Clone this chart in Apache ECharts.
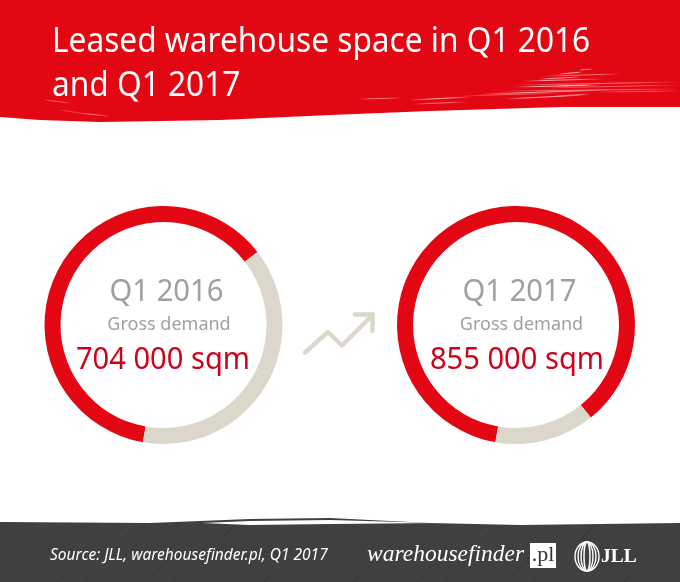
<!DOCTYPE html>
<html><head><meta charset="utf-8">
<style>html,body{margin:0;padding:0;background:#fff}#c{width:680px;height:582px}</style>
<script src="https://cdn.jsdelivr.net/npm/echarts@6/dist/echarts.min.js"></script></head>
<body><div id="c"></div>
<script>
const periods = ['Q1 2016','Q1 2017'];
const amounts = ['704 000 sqm','855 000 sqm'];
const subLabel = 'Gross demand';
const redShare = [61.7,86.4];
const restShare = [38.3,13.6];
const titleLines = ['Leased warehouse space in Q1 2016','and Q1 2017'];
const source = 'Source: JLL, warehousefinder.pl, Q1 2017';
const RED='#e30613', BEIGE='#dbd7cb', DARK='#404040';

const chart = echarts.init(document.getElementById('c'),null,{renderer:'canvas'});
const centers=[[163.5,325],[516,325]];
const textX=[[166.5,169,163],[519.5,521.5,517]];

function noise(){
  const c=document.createElement('canvas');c.width=90;c.height=90;
  const g=c.getContext('2d');g.fillStyle=DARK;g.fillRect(0,0,90,90);
  g.lineWidth=0.6;
  [[0,55,'#4c4c4c'],[14,80,'#363636'],[27,45,'#505050'],[41,70,'#333333'],[58,60,'#4a4a4a'],[73,85,'#373737']].forEach(([x,l,col])=>{
    g.strokeStyle=col;g.beginPath();g.moveTo(x,90);g.lineTo(x+l*0.9,90-l);g.stroke();
  });
  return c;
}
function fade(alpha){
  return {type:'linear',x:0,y:0,x2:1,y2:0,colorStops:[
    {offset:0,color:'rgba(255,220,220,0)'},{offset:0.3,color:'rgba(255,220,220,'+alpha+')'},
    {offset:0.7,color:'rgba(255,220,220,'+alpha+')'},{offset:1,color:'rgba(255,220,220,0)'}]};
}
const streaks=[[580,70,592,69,.6],[560,74,582,72,.8],[545,76,620,74,.5],[540,79,580,77,.7],[525,81,600,79,.7],[512,85,680,82,.5],
 [515,87,600,85,.8],[540,88,680,85,.4],[558,86,590,85,.8],[500,91,680,89,.5],[480,94,610,90,.7],[460,96,560,93,.4],[600,92,680,91,.4],
 [505,99,585,95,.7],[555,96,590,94,.5],[410,100,470,97,.7],[360,99,400,98,.5],[415,104,465,102,.5],[45,100,70,103,.4],[78,113,108,116,.5],[60,110,80,113,.3]];
function streakEls(){
  return streaks.map(s=>({type:'line',z:2,silent:true,
    shape:{x1:s[0],y1:s[1],x2:s[2],y2:s[3]+0.01},
    style:{stroke:fade(s[4]),lineWidth:1}}));
}
const ellipses=[12,9,6,3].map(rx=>({type:'ellipse',z:5,shape:{cx:587,cy:556.5,rx:rx,ry:14.5},style:{fill:'none',stroke:'#fff',lineWidth:1.4}}));

chart.setOption({
  animation:false,
  series:periods.map((p,i)=>({
    type:'pie',center:centers[i],radius:[103,119],startAngle:-100,clockwise:true,silent:true,
    label:{show:false},labelLine:{show:false},z:3,
    data:[{value:redShare[i],name:p,itemStyle:{color:RED}},{value:restShare[i],name:'rest',itemStyle:{color:BEIGE}}]
  })),
  graphic:{elements:[
    {type:'polygon',z:1,shape:{points:[[0,0],[680,0],[680,107],[560,107],[430,111],[330,115],[220,120],[100,122],[40,120],[0,117]]},style:{fill:RED}},
    ...streakEls(),
    ...titleLines.map((t,i)=>({type:'text',z:4,x:52,y:25+i*44,scaleX:0.915,
      style:{x:0,y:0,text:t,fill:'#fff',font:'34.6px "Noto Sans"'}})),
    {type:'polygon',z:1,shape:{points:[[0,522],[150,523],[250,519],[330,518],[430,523],[520,525],[680,523],[680,582],[0,582]]},style:{fill:{image:noise(),repeat:'repeat'}}},
    {type:'polygon',z:2,shape:{points:[[202,523],[250,521],[330,520],[438,523],[330,524],[250,525]]},style:{fill:'#fff'}},
    ...periods.flatMap((p,i)=>[
      {type:'text',z:4,x:textX[i][0],y:292,scaleX:0.975,style:{x:0,y:0,text:p,fill:'#a0a0a0',font:'30px "Noto Sans"',align:'center',verticalAlign:'middle'}},
      {type:'text',z:4,x:textX[i][1],y:325,style:{x:0,y:0,text:subLabel,fill:'#a0a0a0',font:'18px "Noto Sans"',align:'center',verticalAlign:'middle'}},
      {type:'text',z:4,x:textX[i][2],y:360,scaleX:0.97,style:{x:0,y:0,text:amounts[i],fill:'#d0021b',font:'30px "Noto Sans"',align:'center',verticalAlign:'middle'}}
    ]),
    {type:'polyline',z:4,shape:{points:[[305,352.5],[328,332],[342,345.5],[372.5,315]]},style:{stroke:BEIGE,fill:'none',lineWidth:4.5,lineCap:'round',lineJoin:'round'}},
    {type:'polyline',z:4,shape:{points:[[355,314.5],[372.5,314.5],[372.5,331]]},style:{stroke:BEIGE,fill:'none',lineWidth:4.5,lineCap:'round',lineJoin:'round'}},
    {type:'text',z:5,style:{x:50,y:556,text:source,fill:'#fff',font:'italic 15.5px "Noto Sans"',verticalAlign:'middle'}},
    {type:'text',z:5,style:{x:367,y:555,text:'warehousefinder',fill:'#fff',font:'italic 23.5px "Liberation Serif"',verticalAlign:'middle'}},
    {type:'rect',z:5,shape:{x:530,y:543,width:26,height:25},style:{fill:'#fff'}},
    {type:'text',z:6,style:{x:543,y:555,text:'.pl',fill:'#333',font:'22px "Liberation Serif"',align:'center',verticalAlign:'middle'}},
    ...ellipses,
    {type:'text',z:5,style:{x:601,y:557,text:'JLL',fill:'#fff',font:'bold 19.5px "Liberation Serif"',verticalAlign:'middle'}}
  ]}
});
</script></body></html>
